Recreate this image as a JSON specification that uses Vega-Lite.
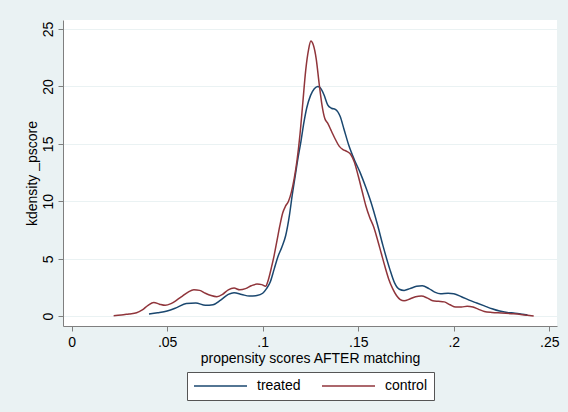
{
  "$schema": "https://vega.github.io/schema/vega-lite/v6.json",
  "width": 494,
  "height": 306,
  "autosize": {"type": "none"},
  "padding": {"left": 63, "top": 20, "right": 11, "bottom": 86},
  "background": "#eaf2f3",
  "config": {
    "view": {"fill": "white", "stroke": null},
    "font": "Liberation Sans",
    "axis": {"labelFont": "Liberation Sans", "titleFont": "Liberation Sans", "labelColor": "#000000", "titleColor": "#000000", "labelFontSize": 14, "titleFontSize": 14, "titleFontWeight": "normal", "domainColor": "#7f7f7f", "tickColor": "#7f7f7f", "tickSize": 5, "domainWidth": 1, "tickWidth": 1},
    "legend": {"labelFont": "Liberation Sans", "labelFontSize": 14, "labelColor": "#000000", "layout": {"bottom": {"anchor": "middle", "direction": "horizontal"}}}
  },
  "data": {
    "values": [
      {"g":"treated","x":0.0405,"y":0.2},{"g":"treated","x":0.045,"y":0.3},{"g":"treated","x":0.05,"y":0.45},{"g":"treated","x":0.055,"y":0.75},{"g":"treated","x":0.06,"y":1.1},{"g":"treated","x":0.065,"y":1.15},{"g":"treated","x":0.07,"y":0.95},{"g":"treated","x":0.074,"y":1.0},{"g":"treated","x":0.078,"y":1.4},{"g":"treated","x":0.082,"y":1.9},{"g":"treated","x":0.085,"y":2.05},{"g":"treated","x":0.089,"y":1.9},{"g":"treated","x":0.093,"y":1.75},{"g":"treated","x":0.097,"y":1.8},{"g":"treated","x":0.1,"y":2.0},{"g":"treated","x":0.102,"y":2.4},{"g":"treated","x":0.104,"y":3.0},{"g":"treated","x":0.106,"y":4.1},{"g":"treated","x":0.108,"y":5.2},{"g":"treated","x":0.11,"y":6.0},{"g":"treated","x":0.112,"y":7.0},{"g":"treated","x":0.114,"y":8.8},{"g":"treated","x":0.1155,"y":10.6},{"g":"treated","x":0.117,"y":12.2},{"g":"treated","x":0.1185,"y":13.8},{"g":"treated","x":0.12,"y":15.2},{"g":"treated","x":0.1215,"y":16.8},{"g":"treated","x":0.123,"y":18.1},{"g":"treated","x":0.125,"y":19.2},{"g":"treated","x":0.127,"y":19.8},{"g":"treated","x":0.1288,"y":20.0},{"g":"treated","x":0.13,"y":19.9},{"g":"treated","x":0.132,"y":19.3},{"g":"treated","x":0.134,"y":18.4},{"g":"treated","x":0.136,"y":18.1},{"g":"treated","x":0.138,"y":18.0},{"g":"treated","x":0.1405,"y":17.4},{"g":"treated","x":0.1425,"y":16.3},{"g":"treated","x":0.145,"y":14.9},{"g":"treated","x":0.148,"y":13.6},{"g":"treated","x":0.151,"y":12.5},{"g":"treated","x":0.154,"y":11.2},{"g":"treated","x":0.1565,"y":10.0},{"g":"treated","x":0.16,"y":8.0},{"g":"treated","x":0.163,"y":6.1},{"g":"treated","x":0.1665,"y":4.1},{"g":"treated","x":0.169,"y":2.9},{"g":"treated","x":0.1715,"y":2.35},{"g":"treated","x":0.174,"y":2.25},{"g":"treated","x":0.177,"y":2.4},{"g":"treated","x":0.1805,"y":2.6},{"g":"treated","x":0.1835,"y":2.65},{"g":"treated","x":0.187,"y":2.4},{"g":"treated","x":0.19,"y":2.1},{"g":"treated","x":0.193,"y":1.95},{"g":"treated","x":0.197,"y":2.0},{"g":"treated","x":0.2,"y":1.95},{"g":"treated","x":0.204,"y":1.7},{"g":"treated","x":0.208,"y":1.4},{"g":"treated","x":0.212,"y":1.15},{"g":"treated","x":0.216,"y":0.9},{"g":"treated","x":0.22,"y":0.65},{"g":"treated","x":0.224,"y":0.45},{"g":"treated","x":0.228,"y":0.33},{"g":"treated","x":0.232,"y":0.27},{"g":"treated","x":0.236,"y":0.18},{"g":"treated","x":0.2385,"y":0.12},
      {"g":"control","x":0.022,"y":0.05},{"g":"control","x":0.026,"y":0.1},{"g":"control","x":0.03,"y":0.2},{"g":"control","x":0.034,"y":0.3},{"g":"control","x":0.037,"y":0.55},{"g":"control","x":0.04,"y":0.95},{"g":"control","x":0.043,"y":1.2},{"g":"control","x":0.046,"y":1.05},{"g":"control","x":0.049,"y":0.95},{"g":"control","x":0.052,"y":1.1},{"g":"control","x":0.055,"y":1.4},{"g":"control","x":0.058,"y":1.75},{"g":"control","x":0.061,"y":2.1},{"g":"control","x":0.064,"y":2.3},{"g":"control","x":0.067,"y":2.25},{"g":"control","x":0.07,"y":2.0},{"g":"control","x":0.073,"y":1.8},{"g":"control","x":0.076,"y":1.7},{"g":"control","x":0.079,"y":1.9},{"g":"control","x":0.082,"y":2.3},{"g":"control","x":0.085,"y":2.45},{"g":"control","x":0.088,"y":2.3},{"g":"control","x":0.091,"y":2.4},{"g":"control","x":0.094,"y":2.65},{"g":"control","x":0.097,"y":2.8},{"g":"control","x":0.0995,"y":2.75},{"g":"control","x":0.1015,"y":2.6},{"g":"control","x":0.103,"y":3.2},{"g":"control","x":0.1045,"y":4.2},{"g":"control","x":0.106,"y":5.3},{"g":"control","x":0.1075,"y":6.6},{"g":"control","x":0.109,"y":7.9},{"g":"control","x":0.1105,"y":9.0},{"g":"control","x":0.112,"y":9.6},{"g":"control","x":0.1135,"y":10.0},{"g":"control","x":0.115,"y":10.8},{"g":"control","x":0.1165,"y":12.0},{"g":"control","x":0.118,"y":13.6},{"g":"control","x":0.1195,"y":15.8},{"g":"control","x":0.121,"y":18.6},{"g":"control","x":0.1225,"y":21.4},{"g":"control","x":0.124,"y":23.2},{"g":"control","x":0.1252,"y":23.95},{"g":"control","x":0.1265,"y":23.6},{"g":"control","x":0.128,"y":22.4},{"g":"control","x":0.1295,"y":20.3},{"g":"control","x":0.131,"y":18.4},{"g":"control","x":0.1325,"y":17.2},{"g":"control","x":0.134,"y":16.8},{"g":"control","x":0.136,"y":16.1},{"g":"control","x":0.138,"y":15.4},{"g":"control","x":0.14,"y":14.8},{"g":"control","x":0.142,"y":14.5},{"g":"control","x":0.144,"y":14.35},{"g":"control","x":0.146,"y":14.1},{"g":"control","x":0.148,"y":13.4},{"g":"control","x":0.15,"y":12.2},{"g":"control","x":0.152,"y":10.9},{"g":"control","x":0.154,"y":9.6},{"g":"control","x":0.156,"y":8.6},{"g":"control","x":0.158,"y":7.8},{"g":"control","x":0.16,"y":6.7},{"g":"control","x":0.162,"y":5.5},{"g":"control","x":0.164,"y":4.3},{"g":"control","x":0.166,"y":3.2},{"g":"control","x":0.168,"y":2.4},{"g":"control","x":0.17,"y":1.8},{"g":"control","x":0.172,"y":1.45},{"g":"control","x":0.174,"y":1.35},{"g":"control","x":0.177,"y":1.5},{"g":"control","x":0.18,"y":1.7},{"g":"control","x":0.183,"y":1.75},{"g":"control","x":0.186,"y":1.6},{"g":"control","x":0.189,"y":1.35},{"g":"control","x":0.192,"y":1.3},{"g":"control","x":0.195,"y":1.25},{"g":"control","x":0.198,"y":1.0},{"g":"control","x":0.201,"y":0.8},{"g":"control","x":0.204,"y":0.8},{"g":"control","x":0.207,"y":0.87},{"g":"control","x":0.21,"y":0.8},{"g":"control","x":0.213,"y":0.6},{"g":"control","x":0.216,"y":0.42},{"g":"control","x":0.22,"y":0.33},{"g":"control","x":0.225,"y":0.28},{"g":"control","x":0.23,"y":0.22},{"g":"control","x":0.235,"y":0.15},{"g":"control","x":0.2385,"y":0.08},{"g":"control","x":0.2418,"y":0.02}
    ]
  },
  "mark": {"type": "line", "interpolate": "monotone", "strokeWidth": 1.5},
  "encoding": {
    "x": {
      "field": "x", "type": "quantitative",
      "scale": {"domain": [-0.0045, 0.254], "nice": false, "zero": false},
      "axis": {"values": [0, 0.05, 0.1, 0.15, 0.2, 0.25], "grid": false, "labelPadding": 4, "title": "propensity scores AFTER matching", "titlePadding": 2, "labelExpr": "datum.value == 0 ? '0' : replace(format(datum.value, '.2~f'), '0.', '.')", "labelFlush": false}
    },
    "y": {
      "field": "y", "type": "quantitative",
      "scale": {"domain": [-0.85, 25.78], "nice": false, "zero": false},
      "axis": {"values": [0, 5, 10, 15, 20, 25], "grid": true, "gridColor": "#eaf2f3", "gridWidth": 1, "labelAngle": -90, "labelPadding": 3, "title": "kdensity _pscore", "titlePadding": 2, "labelFlush": false}
    },
    "color": {
      "field": "g", "type": "nominal",
      "scale": {"domain": ["treated", "control"], "range": ["#1a476f", "#90353b"]},
      "legend": {"title": null, "orient": "bottom", "direction": "horizontal", "symbolType": "stroke", "symbolSize": 2809, "symbolStrokeWidth": 1.5, "clipHeight": 16, "labelOffset": 9, "columnPadding": 20, "padding": 6, "offset": 7, "strokeColor": "#555555", "fillColor": "white"}
    }
  }
}
